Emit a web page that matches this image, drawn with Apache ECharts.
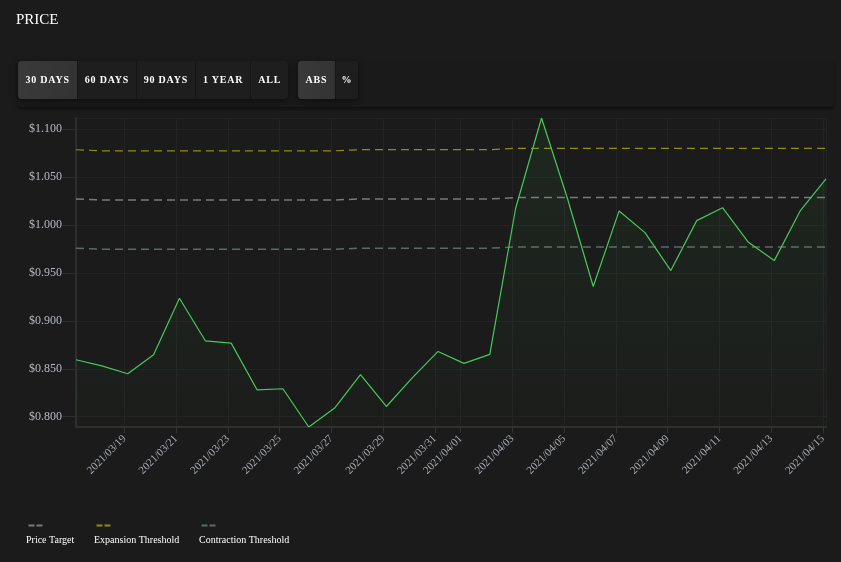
<!DOCTYPE html>
<html>
<head>
<meta charset="utf-8">
<script src="https://cdn.jsdelivr.net/npm/echarts@6/dist/echarts.min.js"></script>
<style>
  html, body { margin: 0; padding: 0; background: #1b1b1b; }
  body { width: 841px; height: 562px; position: relative; overflow: hidden; font-family: 'Liberation Serif', 'DejaVu Serif', serif; }
  .title { position: absolute; left: 16px; top: 11px; color: #fff; font-size: 15px; }
  .toolbar { position: absolute; left: 18px; top: 61px; width: 816px; height: 46px; background: #1a1a1a; box-shadow: 0 2px 3px rgba(0,0,0,0.45); border-radius: 3px; }
  .group { position: absolute; top: 0; height: 38px; display: flex; background: #1e1e1e; border-radius: 4px; box-shadow: 0 2px 6px rgba(0,0,0,0.5); overflow: hidden; }
  .btn { color: #fff; font-weight: bold; font-size: 10px; letter-spacing: 0.8px; line-height: 38px; text-align: center; border-right: 1px solid #161616; }
  .btn:last-child { border-right: none; }
  .btn.on { background: linear-gradient(90deg, #3a3a3a, #333); }
  #chart { position: absolute; left: 0; top: 0; width: 841px; height: 562px; }
</style>
</head>
<body>
<div id="chart"></div>
<div class="title">PRICE</div>
<div class="toolbar">
  <div class="group" style="left:0; width:270px;">
    <div class="btn on" style="width:60px">30 DAYS</div>
    <div class="btn" style="width:58px">60 DAYS</div>
    <div class="btn" style="width:59px">90 DAYS</div>
    <div class="btn" style="width:55px">1 YEAR</div>
    <div class="btn" style="width:37px">ALL</div>
  </div>
  <div class="group" style="left:280px; width:60px;">
    <div class="btn on" style="width:37px">ABS</div>
    <div class="btn" style="width:22px">%</div>
  </div>
</div>
<script>
// daily samples, taken at 03:00
const dates = [
  '2021-03-17', '2021-03-18', '2021-03-19', '2021-03-20', '2021-03-21', '2021-03-22',
  '2021-03-23', '2021-03-24', '2021-03-25', '2021-03-26', '2021-03-27', '2021-03-28',
  '2021-03-29', '2021-03-30', '2021-03-31', '2021-04-01', '2021-04-02', '2021-04-03',
  '2021-04-04', '2021-04-05', '2021-04-06', '2021-04-07', '2021-04-08', '2021-04-09',
  '2021-04-10', '2021-04-11', '2021-04-12', '2021-04-13', '2021-04-14', '2021-04-15'
]

const price = [
  0.8594, 0.8531, 0.8448, 0.8646, 0.9236, 0.8792,
  0.8768, 0.8281, 0.8292, 0.7893, 0.8091, 0.8438,
  0.8107, 0.8405, 0.8681, 0.8556, 0.8650, 1.0174,
  1.1115, 1.0278, 0.9358, 1.0146, 0.9920, 0.9524,
  1.0045, 1.0180, 0.9819, 0.9628, 1.0146, 1.0479
]

const priceTarget = [
  1.0270, 1.0260, 1.0260, 1.0260, 1.0260, 1.0260,
  1.0260, 1.0260, 1.0260, 1.0260, 1.0260, 1.0271,
  1.0271, 1.0271, 1.0271, 1.0271, 1.0271, 1.0285,
  1.0285, 1.0285, 1.0285, 1.0285, 1.0285, 1.0285,
  1.0285, 1.0285, 1.0285, 1.0285, 1.0285, 1.0285
]

const expansion = [
  1.0784, 1.0773, 1.0773, 1.0773, 1.0773, 1.0773,
  1.0773, 1.0773, 1.0773, 1.0773, 1.0773, 1.0785,
  1.0785, 1.0785, 1.0785, 1.0785, 1.0785, 1.0799,
  1.0799, 1.0799, 1.0799, 1.0799, 1.0799, 1.0799,
  1.0799, 1.0799, 1.0799, 1.0799, 1.0799, 1.0799
]

const contraction = [
  0.9757, 0.9747, 0.9747, 0.9747, 0.9747, 0.9747,
  0.9747, 0.9747, 0.9747, 0.9747, 0.9747, 0.9757,
  0.9757, 0.9757, 0.9757, 0.9757, 0.9757, 0.9771,
  0.9771, 0.9771, 0.9771, 0.9771, 0.9771, 0.9771,
  0.9771, 0.9771, 0.9771, 0.9771, 0.9771, 0.9771
]

const legendNames = ['Price Target', 'Expansion Threshold', 'Contraction Threshold']
const legendColors = ['#7a7a7a', '#8e8e12', '#5d6a6b']

const serif = "'Liberation Serif', 'DejaVu Serif', serif"
const pts = arr => arr.map((v, i) => [dates[i] + ' 03:00', v])

const chart = echarts.init(document.getElementById('chart'), null, { renderer: 'canvas' })

// legend: small dash above each name
const legendX = [26, 94, 199]
const legendGraphic = []
legendNames.forEach((name, i) => {
  legendGraphic.push({
    type: 'line', left: legendX[i], top: 523,
    shape: { x1: 0, y1: 0, x2: 14, y2: 0 },
    style: { stroke: legendColors[i], lineWidth: 2, lineDash: [6, 2] }
  })
  legendGraphic.push({
    type: 'text', left: legendX[i], top: 535,
    style: { text: name, fill: '#fff', font: '10px ' + serif }
  })
})

const dashed = (name, data, color, width) => ({
  name: name,
  type: 'line',
  data: pts(data),
  showSymbol: false,
  z: 3,
  lineStyle: { color: color, width: width, type: [8, 5] }
})

chart.setOption({
  backgroundColor: 'transparent',
  animation: false,
  grid: { left: 76, right: 15, top: 118, bottom: 135, containLabel: false },
  xAxis: {
    type: 'time',
    min: 'dataMin',
    max: 'dataMax',
    splitNumber: 12,
    axisLine: { show: true, lineStyle: { color: '#2e2e2e', width: 2 } },
    axisTick: { show: true, length: 6, lineStyle: { color: '#333' } },
    splitLine: { show: true, lineStyle: { color: '#232323' } },
    axisLabel: {
      rotate: 45,
      color: '#a7abb2',
      fontFamily: serif,
      fontSize: 11,
      margin: 10,
      hideOverlap: false,
      formatter: '{yyyy}/{MM}/{dd}'
    }
  },
  yAxis: {
    type: 'value',
    min: 'dataMin',
    max: 'dataMax',
    splitNumber: 6,
    axisLine: { show: true, lineStyle: { color: '#2e2e2e', width: 2 } },
    axisTick: { show: true, length: 14, lineStyle: { color: '#2c2c2c' } },
    splitLine: { show: true, lineStyle: { color: '#232323' } },
    axisLabel: {
      color: '#b5b9bf',
      fontFamily: serif,
      fontSize: 12,
      margin: 14,
      showMinLabel: false,
      showMaxLabel: false,
      formatter: v => '$' + v.toFixed(3)
    }
  },
  graphic: legendGraphic,
  series: [
    {
      name: 'Price',
      type: 'line',
      data: pts(price),
      showSymbol: false,
      z: 4,
      lineStyle: { color: '#46c957', width: 1.2 },
      areaStyle: {
        color: new echarts.graphic.LinearGradient(0, 0, 0, 1, [
          { offset: 0, color: 'rgba(70, 201, 87, 0.11)' },
          { offset: 1, color: 'rgba(70, 201, 87, 0.02)' }
        ])
      }
    },
    dashed(legendNames[0], priceTarget, legendColors[0], 1.5),
    dashed(legendNames[1], expansion, legendColors[1], 1.2),
    dashed(legendNames[2], contraction, legendColors[2], 1.5)
  ]
})
</script>
</body>
</html>
